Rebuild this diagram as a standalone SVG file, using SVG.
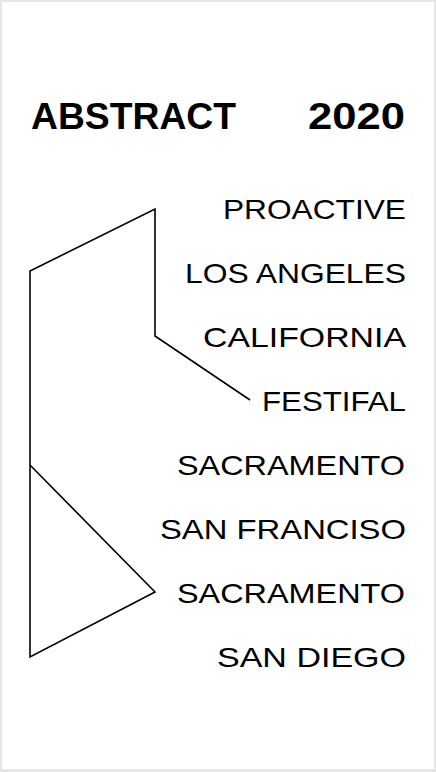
<svg xmlns="http://www.w3.org/2000/svg" width="436" height="772" viewBox="0 0 436 772">
<style>
.t{font-family:"Liberation Sans",Arial,sans-serif;font-size:28px;fill:#000;}
.h{font-family:"Liberation Sans",Arial,sans-serif;font-size:36px;font-weight:bold;fill:#000;}
.c{fill:none;stroke:#000;stroke-width:1.6;stroke-linejoin:miter;}
</style>
<rect x="0" y="0" width="436" height="772" fill="#e6e6e6"/>
<rect x="2" y="2" width="432" height="767" fill="#fff"/>
<g id="title">
<text class="h" x="31" y="129" textLength="205" lengthAdjust="spacingAndGlyphs">ABSTRACT</text>
<text class="h" x="308" y="129" textLength="97" lengthAdjust="spacingAndGlyphs">2020</text>
</g>
<g id="connectors">
<polyline class="c" points="250,400 155,336 155,209 30,271 30,657 155,592 30,465"/>
</g>
<g id="labels">
<text id="n1" class="t" x="223" y="219" textLength="183" lengthAdjust="spacingAndGlyphs">PROACTIVE</text>
<text id="n2" class="t" x="185" y="283" textLength="221" lengthAdjust="spacingAndGlyphs">LOS ANGELES</text>
<text id="n3" class="t" x="203" y="347" textLength="203" lengthAdjust="spacingAndGlyphs">CALIFORNIA</text>
<text id="n4" class="t" x="262" y="411" textLength="144" lengthAdjust="spacingAndGlyphs">FESTIFAL</text>
<text id="n5" class="t" x="177" y="475" textLength="228" lengthAdjust="spacingAndGlyphs">SACRAMENTO</text>
<text id="n6" class="t" x="160" y="539" textLength="246" lengthAdjust="spacingAndGlyphs">SAN FRANCISO</text>
<text id="n7" class="t" x="177" y="603" textLength="228" lengthAdjust="spacingAndGlyphs">SACRAMENTO</text>
<text id="n8" class="t" x="217" y="667" textLength="189" lengthAdjust="spacingAndGlyphs">SAN DIEGO</text>
</g>
</svg>
